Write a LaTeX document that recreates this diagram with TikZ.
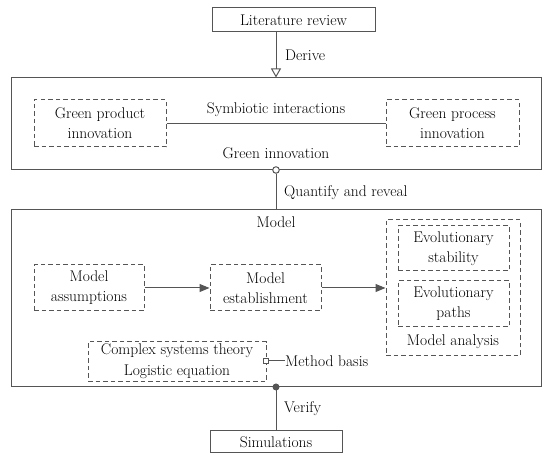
\documentclass[tikz,border=0pt]{standalone}
\usetikzlibrary{arrows.meta}
\definecolor{ln}{HTML}{555555}
\definecolor{tx}{HTML}{000000}
\begin{document}
\begin{tikzpicture}[x=1pt,y=-1pt,
  every node/.style={text=tx,font=\fontsize{15.5}{20}\selectfont,inner sep=0pt},
  solidbox/.style={draw=ln,line width=1pt,minimum width=#1},
  dbox/.style={draw=ln,line width=1pt,dash pattern=on 4.5pt off 3pt,align=center},
  conn/.style={draw=ln,line width=1pt},
  lbl/.style={anchor=west}]
\useasboundingbox (0,0) rectangle (550,462);
% top
\node[solidbox=163,minimum height=24] (lit) at (293.5,20) {Literature review};
\node[draw=ln,line width=1pt,minimum width=530,minimum height=92] (green) at (276,124) {};
\node[dbox,minimum width=132,minimum height=47] (gpi) at (100,123.5) {Green product\\innovation};
\node[dbox,minimum width=133,minimum height=47] (gpr) at (452.5,123.5) {Green process\\innovation};
\draw[conn] (gpi.east |- 0,124) -- (gpr.west |- 0,124);
\node (sym) at (276,110) {Symbiotic interactions};
\node (gin) at (276,153) {Green innovation};
\draw[conn,-{Triangle[open,length=9pt,width=10pt]}] (green.north |- lit.south) -- (green.north);
\node[lbl] (der) at (285,55) {Derive};
% model
\node[draw=ln,line width=1pt,minimum width=530,minimum height=177] (model) at (276,298.5) {};
\node (mt) at (276,222) {Model};
\node[draw=ln,line width=1pt,fill=white,circle,minimum size=6.5pt] (qc) at (276,170) {};
\draw[conn] (qc.south) -- (model.north);
\node[lbl] (qr) at (284,193) {Quantify and reveal};
\node[dbox,minimum width=110,minimum height=46] (ma) at (89,288) {Model\\assumptions};
\node[dbox,minimum width=111,minimum height=46] (me) at (265.5,288) {Model\\establishment};
\node[dbox,minimum width=134,minimum height=136] (an) at (453,288) {};
\node[dbox,minimum width=111,minimum height=45] (es) at (453.5,248.5) {Evolutionary\\stability};
\node[dbox,minimum width=111,minimum height=46] (ep) at (453.5,304) {Evolutionary\\paths};
\node (mal) at (453,342) {Model analysis};
\draw[conn,-{Triangle[length=10pt,width=8pt]}] (ma.east) -- (me.west);
\draw[conn,-{Triangle[length=10pt,width=8pt]}] (me.east) -- (an.west);
\node[dbox,minimum width=178,minimum height=40] (cx) at (177,362) {};
\node (cst) at (177,350.5) {Complex systems theory};
\node (leq) at (177,371.5) {Logistic equation};
\node[draw=ln,line width=0.8pt,fill=white,minimum size=5pt] (sq) at (266,361) {};
\node[lbl] (mb) at (285,361) {Method basis};
\draw[conn] (sq.east) -- (mb.west);
% bottom
\node[solidbox=132,minimum height=22] (sim) at (276,442) {Simulations};
\node[fill=ln,circle,minimum size=7pt] (vd) at (276,387) {};
\draw[conn] (vd.center) -- (sim.north);
\node[lbl] (ver) at (284,409) {Verify};
\end{tikzpicture}
\end{document}
